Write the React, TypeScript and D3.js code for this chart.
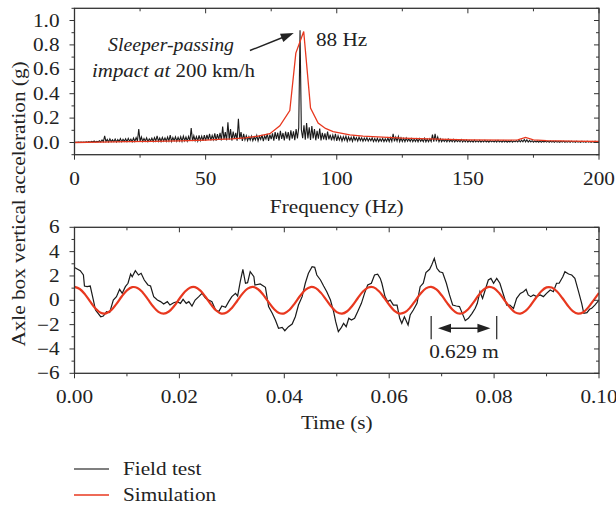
import React from "react";
import * as d3 from "d3";

// ---------- DATA ----------
// Top panel: spectrum (Frequency, Hz)
const fieldSpecStep = 0.5; // Hz between consecutive field-test spectrum samples
const fieldSpec = [
  0.000,0.002,0.001,0.003,0.001,0.004,0.002,0.003,0.001,0.005,
  0.002,0.008,0.003,0.010,0.004,0.012,0.003,0.009,0.005,0.014,
  0.004,0.020,0.006,0.055,0.008,0.025,0.005,0.030,0.007,0.022,
  0.006,0.028,0.004,0.024,0.008,0.032,0.006,0.026,0.009,0.030,
  0.007,0.034,0.010,0.028,0.006,0.036,0.009,0.040,0.012,0.110,
  0.010,0.045,0.008,0.032,0.011,0.038,0.007,0.030,0.012,0.035,
  0.009,0.040,0.012,0.055,0.010,0.036,0.008,0.042,0.013,0.038,
  0.010,0.044,0.012,0.060,0.009,0.040,0.014,0.046,0.011,0.042,
  0.013,0.048,0.010,0.052,0.015,0.045,0.012,0.050,0.014,0.118,
  0.012,0.055,0.015,0.048,0.011,0.058,0.016,0.052,0.013,0.060,
  0.015,0.062,0.022,0.070,0.018,0.058,0.024,0.075,0.016,0.068,
  0.023,0.080,0.017,0.130,0.025,0.085,0.018,0.165,0.024,0.110,
  0.016,0.090,0.029,0.080,0.015,0.195,0.027,0.085,0.013,0.070,
  0.022,0.055,0.015,0.048,0.020,0.052,0.014,0.045,0.021,0.058,
  0.013,0.050,0.026,0.062,0.012,0.055,0.028,0.070,0.014,0.065,
  0.027,0.075,0.015,0.085,0.030,0.080,0.016,0.095,0.029,0.078,
  0.018,0.090,0.032,0.085,0.017,0.100,0.031,0.092,0.020,0.110,
  0.033,0.120,0.920,0.105,0.035,0.140,0.022,0.160,0.034,0.125,
  0.020,0.135,0.034,0.110,0.018,0.095,0.031,0.115,0.017,0.080,
  0.026,0.075,0.019,0.090,0.025,0.065,0.018,0.060,0.024,0.070,
  0.013,0.055,0.021,0.050,0.012,0.048,0.020,0.052,0.011,0.045,
  0.017,0.042,0.010,0.048,0.018,0.040,0.011,0.044,0.016,0.038,
  0.010,0.036,0.015,0.040,0.011,0.034,0.014,0.038,0.008,0.032,
  0.009,0.035,0.007,0.030,0.010,0.034,0.008,0.031,0.009,0.036,
  0.008,0.040,0.010,0.070,0.009,0.045,0.011,0.050,0.008,0.038,
  0.009,0.034,0.007,0.036,0.010,0.030,0.008,0.032,0.007,0.028,
  0.008,0.030,0.006,0.032,0.009,0.027,0.007,0.034,0.006,0.028,
  0.007,0.030,0.008,0.065,0.006,0.070,0.009,0.045,0.007,0.030,
  0.006,0.026,0.008,0.024,0.005,0.028,0.007,0.022,0.006,0.025,
  0.005,0.022,0.007,0.020,0.006,0.024,0.004,0.019,0.006,0.021,
  0.004,0.018,0.005,0.016,0.003,0.019,0.005,0.015,0.004,0.017,
  0.003,0.015,0.005,0.017,0.004,0.014,0.003,0.016,0.005,0.013,
  0.004,0.015,0.003,0.018,0.005,0.013,0.003,0.016,0.004,0.014,
  0.003,0.012,0.004,0.015,0.003,0.013,0.005,0.016,0.004,0.018,
  0.005,0.020,0.006,0.024,0.005,0.022,0.004,0.018,0.005,0.015,
  0.003,0.013,0.004,0.012,0.003,0.014,0.002,0.011,0.004,0.012,
  0.003,0.011,0.002,0.012,0.003,0.010,0.002,0.011,0.003,0.009,
  0.002,0.010,0.003,0.011,0.002,0.009,0.003,0.010,0.002,0.011,
  0.003,0.009,0.002,0.010,0.003,0.008,0.002,0.010,0.003,0.009,
  0.002,0.010,0.003,0.008,0.002,0.009,0.003,0.010,0.002,0.008,
  0.004,
];

const simSpecFreq = [0,10,20,30,40,50,55,60,65,70,74.5,78.3,82.1,84.4,87.4,90,92.9,95.7,98.6,105,110,117.5,125,135,150,165,169,172,175,180,190,200];
const simSpecVal  = [0,0.003,0.007,0.010,0.014,0.020,0.025,0.030,0.038,0.052,0.072,0.137,0.262,0.733,0.910,0.282,0.159,0.115,0.090,0.063,0.053,0.044,0.036,0.029,0.022,0.019,0.022,0.041,0.022,0.016,0.012,0.008];

const freqTicks = [0, 50, 100, 150, 200];
const specTicks = [0, 0.2, 0.4, 0.6, 0.8, 1.0];

// Bottom panel: time history (Time, s)
const fieldT = [0.0000,0.0011,0.0017,0.0019,0.0024,0.0030,0.0036,0.0040,0.0050,0.0055,0.0061,0.0067,0.0074,0.0080,0.0086,0.0091,0.0097,0.0102,0.0107,0.0110,0.0116,0.0122,0.0127,0.0133,0.0140,0.0145,0.0151,0.0158,0.0164,0.0170,0.0177,0.0182,0.0189,0.0196,0.0202,0.0207,0.0213,0.0218,0.0224,0.0230,0.0237,0.0243,0.0250,0.0256,0.0262,0.0269,0.0275,0.0281,0.0288,0.0294,0.0300,0.0307,0.0311,0.0316,0.0321,0.0326,0.0330,0.0335,0.0342,0.0344,0.0354,0.0364,0.0370,0.0377,0.0383,0.0389,0.0396,0.0401,0.0408,0.0415,0.0421,0.0427,0.0434,0.0440,0.0446,0.0453,0.0458,0.0462,0.0469,0.0475,0.0481,0.0488,0.0494,0.0498,0.0503,0.0509,0.0513,0.0518,0.0523,0.0528,0.0534,0.0540,0.0547,0.0553,0.0559,0.0566,0.0572,0.0578,0.0583,0.0586,0.0592,0.0597,0.0602,0.0608,0.0615,0.0620,0.0624,0.0629,0.0636,0.0640,0.0646,0.0653,0.0659,0.0665,0.0670,0.0677,0.0681,0.0686,0.0691,0.0696,0.0702,0.0709,0.0715,0.0721,0.0728,0.0734,0.0738,0.0745,0.0751,0.0758,0.0764,0.0768,0.0773,0.0778,0.0783,0.0789,0.0794,0.0799,0.0805,0.0811,0.0818,0.0824,0.0830,0.0837,0.0843,0.0850,0.0856,0.0861,0.0865,0.0870,0.0875,0.0881,0.0888,0.0894,0.0900,0.0907,0.0913,0.0919,0.0924,0.0931,0.0935,0.0942,0.0948,0.0954,0.0961,0.0967,0.0971,0.0977,0.0982,0.0986,0.0992,0.1000];
const fieldV = [2.70,2.43,2.08,1.17,1.12,1.17,0.02,-0.80,-1.35,-1.29,-0.93,-1.01,0.02,0.30,0.90,0.57,1.12,1.40,2.16,1.94,2.43,2.08,2.22,1.67,1.26,1.17,0.30,0.02,-0.11,-0.30,-0.11,-0.39,-0.20,-0.11,-0.25,0.08,-0.25,-0.11,-0.47,0.02,0.30,0.57,0.16,0.02,-0.11,-0.80,-0.93,-0.47,-0.58,-0.11,0.30,0.57,0.35,1.53,2.55,1.40,1.45,2.35,1.94,1.26,1.34,1.07,-0.52,-1.07,-1.62,-2.30,-2.22,-2.50,-2.17,-1.95,-1.35,-0.39,0.30,1.40,2.22,2.76,2.71,2.08,1.67,1.17,0.71,0.02,-0.93,-1.76,-2.58,-2.22,-1.89,-2.17,-1.48,-1.62,-1.48,-0.93,-0.25,0.57,1.26,1.40,2.08,2.14,1.80,1.40,0.30,-0.11,0.02,-0.39,-0.39,-1.48,-1.89,-1.35,-2.03,-1.21,-0.80,-0.25,1.12,1.40,2.27,2.55,2.90,3.45,2.63,2.35,2.27,1.40,0.44,-0.39,-0.47,-0.52,-0.93,-1.67,-1.48,-1.07,-0.66,-0.25,0.71,0.16,0.85,1.67,1.80,1.40,1.80,1.40,0.44,-0.39,-0.39,-0.66,0.16,0.57,0.71,0.90,0.44,0.30,0.44,0.30,0.44,0.30,0.57,0.85,0.71,1.40,1.40,1.94,2.35,2.16,2.08,1.80,0.71,-0.25,-1.07,-1.01,-0.74,-0.66,-0.39,0.02];

const simTStep = 0.001; // s between simulation samples
const simV = [1.10,0.93,0.49,-0.11,-0.67,-1.03,-1.08,-0.81,-0.29,0.31,0.82,1.08,1.02,0.65,0.08,-0.51,-0.95,-1.10,-0.92,-0.47,0.13,0.68,1.04,1.08,0.79,0.27,-0.33,-0.84,-1.09,-1.01,-0.63,-0.06,0.53,0.96,1.10,0.91,0.45,-0.15,-0.70,-1.04,-1.07,-0.78,-0.25,0.35,0.85,1.09,1.00,0.61,0.04,-0.54,-0.97,-1.10,-0.90,-0.43,0.17,0.72,1.05,1.07,0.76,0.23,-0.37,-0.86,-1.09,-0.99,-0.60,-0.02,0.56,0.98,1.10,0.89,0.41,-0.19,-0.73,-1.06,-1.06,-0.75,-0.21,0.39,0.88,1.10,0.99,0.58,0.00,-0.58,-0.99,-1.09,-0.87,-0.39,0.21,0.75,1.06,1.05,0.73,0.19,-0.41,-0.89,-1.10,-0.98,-0.56,0.02,0.60];

const timeTicks = [0, 0.02, 0.04, 0.06, 0.08, 0.1];
const accTicks = [-6, -4, -2, 0, 2, 4, 6];

const seriesNames = ["Field test", "Simulation"];

// ---------- STYLE ----------
const FONT = "'Liberation Serif', 'Times New Roman', serif";
const RED = "#e8381f";
const BLACK = "#1a1a1a";
const AXIS = "#333";
const FS = 18;
const SX = 1.18; // horizontal stretch of the glyphs, as in the reference

function T({ x, y, anchor = "start", size = FS, italic = false, rotate = 0, sx = SX, children }) {
  return (
    <text
      transform={`translate(${x},${y}) rotate(${rotate}) scale(${sx},1)`}
      textAnchor={anchor}
      fontFamily={FONT}
      fontSize={size}
      fontStyle={italic ? "italic" : "normal"}
      fill="#222"
    >
      {children}
    </text>
  );
}

function Frame({ x, y, xTicks, xMinor, yTicks, yMinor, xFmt, yFmt }) {
  const [x0, x1] = x.range();
  const [y0, y1] = y.range(); // y0 bottom, y1 top
  const maj = 5, min = 3;
  return (
    <g>
      <rect x={x0} y={y1} width={x1 - x0} height={y0 - y1} fill="none" stroke={AXIS} strokeWidth={1.3} />
      {xTicks.map((t, i) => (
        <g key={"xt" + i}>
          <line x1={x(t)} x2={x(t)} y1={y0} y2={y0 + maj} stroke={AXIS} strokeWidth={1} />
          <line x1={x(t)} x2={x(t)} y1={y1} y2={y1 + maj} stroke={AXIS} strokeWidth={1} />
          <T x={x(t)} y={y0 + 30} anchor="middle">{xFmt(t)}</T>
        </g>
      ))}
      {xMinor.map((t, i) => (
        <g key={"xm" + i}>
          <line x1={x(t)} x2={x(t)} y1={y0} y2={y0 + min} stroke={AXIS} strokeWidth={1} />
          <line x1={x(t)} x2={x(t)} y1={y1} y2={y1 + min} stroke={AXIS} strokeWidth={1} />
        </g>
      ))}
      {yTicks.map((t, i) => (
        <g key={"yt" + i}>
          <line x1={x0 - maj} x2={x0} y1={y(t)} y2={y(t)} stroke={AXIS} strokeWidth={1} />
          <line x1={x1 - maj} x2={x1} y1={y(t)} y2={y(t)} stroke={AXIS} strokeWidth={1} />
          <T x={x0 - 15} y={y(t) + 6} anchor="end">{yFmt(t)}</T>
        </g>
      ))}
      {yMinor.map((t, i) => (
        <g key={"ym" + i}>
          <line x1={x0 - min} x2={x0} y1={y(t)} y2={y(t)} stroke={AXIS} strokeWidth={1} />
          <line x1={x1 - min} x2={x1} y1={y(t)} y2={y(t)} stroke={AXIS} strokeWidth={1} />
        </g>
      ))}
    </g>
  );
}

export default function App() {
  const left = 74.5, right = 599;
  // top panel
  const xF = d3.scaleLinear().domain([0, 200]).range([left, right]);
  const yF = d3.scaleLinear().domain([-0.1, 1.1]).range([154.7, 8.3]);
  // bottom panel
  const xT = d3.scaleLinear().domain([0, 0.1]).range([left, right]);
  const yT = d3.scaleLinear().domain([-6, 6]).range([373.3, 227.3]);

  const fieldSpecLine = d3.line<number>()
    .x((_, i) => xF(i * fieldSpecStep))
    .y((v) => yF(v))(fieldSpec);
  const simSpecLine = d3.line<number>()
    .x((_, i) => xF(simSpecFreq[i]))
    .y((v) => yF(v))(simSpecVal);
  const fieldTimeLine = d3.line<number>()
    .x((_, i) => xT(fieldT[i]))
    .y((v) => yT(v))(fieldV);
  const simTimeLine = d3.line<number>()
    .curve(d3.curveCatmullRom)
    .x((_, i) => xT(i * simTStep))
    .y((v) => yT(v))(simV);

  const fmt1 = d3.format(".1f");
  const fmt0 = d3.format("d");
  const fmt2 = d3.format(".2f");

  // annotation arrow (top)
  const ax0 = xF(66.9), ay0 = yF(0.754), ax1 = xF(83.6), ay1 = yF(0.897);
  const ang = Math.atan2(ay1 - ay0, ax1 - ax0);
  const hl = 13, hw = 4.5;
  const head = (tx, ty, a) => {
    const bx = tx - hl * Math.cos(a), by = ty - hl * Math.sin(a);
    return `${tx},${ty} ${bx + hw * Math.sin(a)},${by - hw * Math.cos(a)} ${bx - hw * Math.sin(a)},${by + hw * Math.cos(a)}`;
  };

  // 0.629 m marker (bottom)
  const mL = xT(0.0680), mR = xT(0.0805);
  const aL = xT(0.0693), aR = xT(0.0793), aY = yT(-2.3);

  return (
    <div style={{ position: "absolute", left: 0, top: 0 }}>
      <svg width={616} height={508} style={{ display: "block", background: "#fff" }}>
        <defs>
          <clipPath id="clipTop"><rect x={left} y={8.3} width={right - left} height={154.7 - 8.3} /></clipPath>
          <clipPath id="clipBot"><rect x={left} y={227.3} width={right - left} height={373.3 - 227.3} /></clipPath>
        </defs>

        {/* TOP PANEL */}
        <g clipPath="url(#clipTop)">
          <path d={fieldSpecLine} fill="none" stroke={BLACK} strokeWidth={1.1} />
          <path d={simSpecLine} fill="none" stroke={RED} strokeWidth={1.3} />
        </g>
        <Frame x={xF} y={yF} xTicks={freqTicks} xMinor={[25, 75, 125, 175]} yTicks={specTicks}
          yMinor={[-0.1, 0.1, 0.3, 0.5, 0.7, 0.9, 1.1]} xFmt={fmt0} yFmt={fmt1} />
        <T x={xF(100)} y={213} anchor="middle">Frequency (Hz)</T>

        <T x={171} y={51} anchor="middle" italic sx={1.1}>Sleeper-passing</T>
        <T x={173.5} y={77} anchor="middle" sx={1.16}>
          <tspan fontStyle="italic">impact at </tspan>200 km/h
        </T>
        <line x1={ax0} y1={ay0} x2={ax1 - 10 * Math.cos(ang)} y2={ay1 - 10 * Math.sin(ang)} stroke="#222" strokeWidth={1.4} />
        <polygon points={head(ax1, ay1, ang)} fill="#222" />
        <T x={316} y={46}>88 Hz</T>

        {/* BOTTOM PANEL */}
        <g clipPath="url(#clipBot)">
          <path d={fieldTimeLine} fill="none" stroke={BLACK} strokeWidth={1.2} />
          <path d={simTimeLine} fill="none" stroke={RED} strokeWidth={2.2} />
        </g>
        <Frame x={xT} y={yT} xTicks={timeTicks} xMinor={[0.01, 0.03, 0.05, 0.07, 0.09]} yTicks={accTicks}
          yMinor={[-5, -3, -1, 1, 3, 5]} xFmt={fmt2} yFmt={fmt0} />
        <T x={xT(0.05)} y={429} anchor="middle">Time (s)</T>

        <line x1={mL} x2={mL} y1={yT(-1.3)} y2={yT(-3.2)} stroke="#222" strokeWidth={1.2} />
        <line x1={mR} x2={mR} y1={yT(-1.3)} y2={yT(-3.2)} stroke="#222" strokeWidth={1.2} />
        <line x1={aL + 8} x2={aR - 8} y1={aY} y2={aY} stroke="#222" strokeWidth={1.4} />
        <polygon points={head(aR, aY, 0)} fill="#222" />
        <polygon points={head(aL, aY, Math.PI)} fill="#222" />
        <T x={(mL + mR) / 2} y={358} anchor="middle">0.629 m</T>

        {/* Y label */}
        <T x={25} y={204} anchor="middle" rotate={-90}>Axle box vertical acceleration (g)</T>

        {/* LEGEND */}
        <line x1={74} x2={109} y1={469} y2={469} stroke="#555" strokeWidth={1.5} />
        <T x={123} y={474.5}>{seriesNames[0]}</T>
        <line x1={74} x2={109} y1={495} y2={495} stroke={RED} strokeWidth={1.5} />
        <T x={123} y={500.5}>{seriesNames[1]}</T>
      </svg>
    </div>
  );
}
